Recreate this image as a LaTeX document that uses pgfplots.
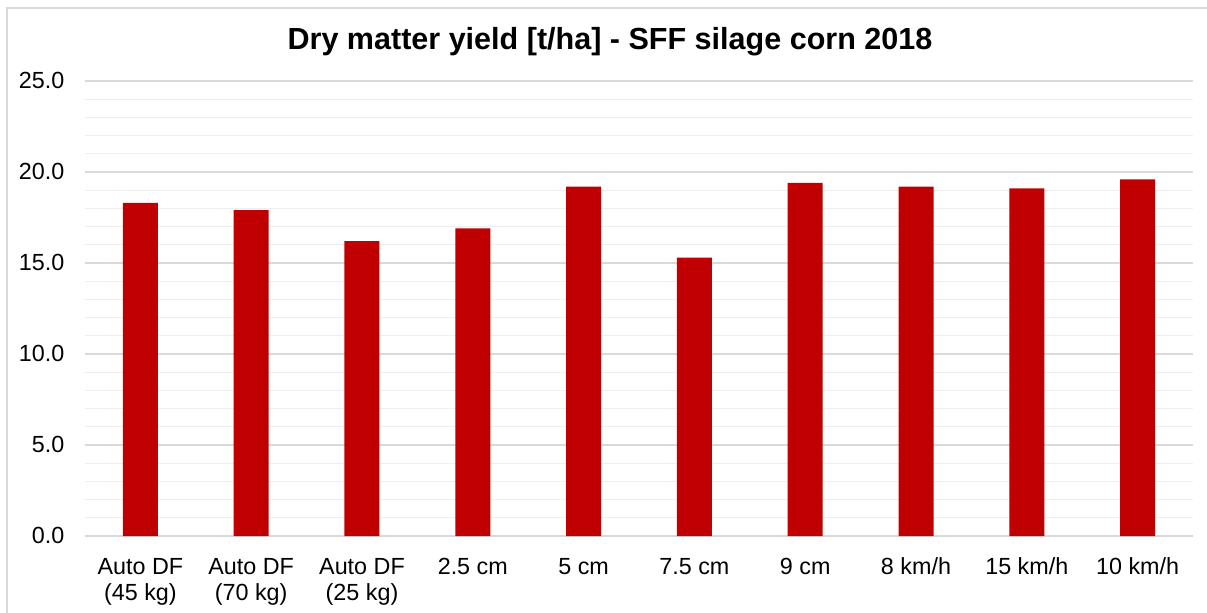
\documentclass[border=0pt]{standalone}
\usepackage{pgfplots}
\pgfplotsset{compat=1.18}
\usepackage{fontspec}
\setmainfont{Liberation Sans}
\definecolor{barred}{HTML}{C00000}
\definecolor{majgrid}{HTML}{D9D9D9}
\definecolor{mingrid}{HTML}{EFEFEF}
\begin{document}
\begin{tikzpicture}[x=0.75pt,y=0.75pt]
\useasboundingbox (-85,-76) rectangle (1122,536);
\begin{axis}[
  at={(0,0)}, anchor=south west,
  scale only axis,
  width=831pt, height=341.25pt,
  xmin=-0.5, xmax=9.5,
  ymin=0, ymax=25,
  ytick={0,5,...,25},
  minor ytick={1,2,3,4,6,7,8,9,11,12,13,14,16,17,18,19,21,22,23,24},
  ymajorgrids, yminorgrids,
  major grid style={majgrid, line width=1.2pt},
  minor grid style={mingrid, line width=1pt},
  xtick=data,
  xticklabels={{Auto DF\\(45 kg)},{Auto DF\\(70 kg)},{Auto DF\\(25 kg)},2.5 cm,5 cm,7.5 cm,9 cm,8 km/h,15 km/h,10 km/h},
  typeset ticklabels with strut,
  xticklabel style={align=center, font=\fontsize{17.5}{20}\selectfont, anchor=north, yshift=-11pt},
  yticklabel style={font=\fontsize{17.5}{20}\selectfont, xshift=-12pt, yshift=-1.5pt},
  /pgf/number format/.cd, fixed, fixed zerofill, precision=1, assume math mode=true,
  /pgfplots/.cd,
  axis lines*=left,
  y axis line style={draw=none},
  x axis line style={majgrid, line width=1.2pt, -},
  major tick length=0pt, minor tick length=0pt,
  ybar, bar width=26.25pt,
]
\addplot[fill=barred, draw=none] coordinates {
(0,18.3) (1,17.9) (2,16.2) (3,16.9) (4,19.2) (5,15.3) (6,19.4) (7,19.2) (8,19.1) (9,19.6)};
\end{axis}
\draw[majgrid, line width=1.5pt] (-78,-200) -- (-78,528) -- (1300,528);
\node[font=\bfseries\fontsize{22.9}{26}\selectfont] at (525,494) {Dry matter yield [t/ha] - SFF silage corn 2018};
\end{tikzpicture}
\end{document}
